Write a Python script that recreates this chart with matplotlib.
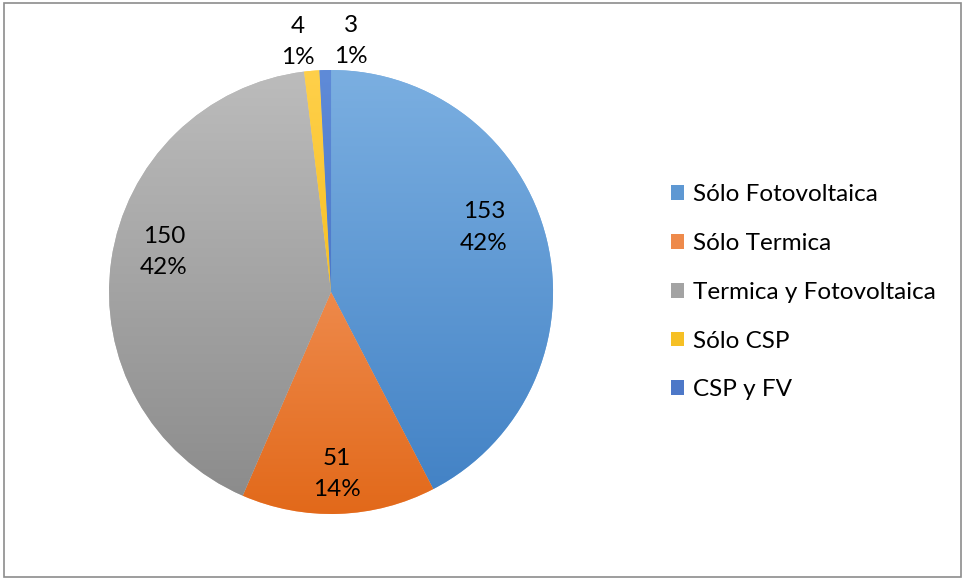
import numpy as np
import matplotlib
matplotlib.use("Agg")
from matplotlib import pyplot as plt
from matplotlib.colors import LinearSegmentedColormap, to_rgb
from matplotlib.patches import Patch, Rectangle

plt.rcParams["font.family"] = ["Lato", "DejaVu Sans"]

categories = ["Sólo Fotovoltaica", "Sólo Termica", "Termica y Fotovoltaica",
              "Sólo CSP", "CSP y FV"]
values = [153, 51, 150, 4, 3]
percents = ["42%", "14%", "42%", "1%", "1%"]

# top / bottom colours of the gradient fill
grad_top = ["#7BAFE1", "#FAAA7C", "#BCBCBC", "#FFD04A", "#5F8BD8"]
grad_bottom = ["#4080C4", "#E2691A", "#8A8A8A", "#EDB000", "#3A64B8"]


def main():
    fig = plt.figure(figsize=(9.64, 5.80), dpi=100)
    fig.add_artist(Rectangle((0.004, 0.006), 0.993, 0.988, transform=fig.transFigure,
                             fill=False, edgecolor="#8c8c8c", linewidth=1.2))

    ax = fig.add_axes([0.1131, 0.1138, 0.4606, 0.7655])
    wedges, _ = ax.pie(values, startangle=90, counterclock=False,
                       colors=grad_top, radius=1.0,
                       wedgeprops=dict(linewidth=0))
    ax.set_xlim(-1, 1)
    ax.set_ylim(-1, 1)
    ax.set_aspect("auto")

    grad = np.linspace(0, 1, 256).reshape(-1, 1)
    for w, top, bot in zip(wedges, grad_top, grad_bottom):
        cmap = LinearSegmentedColormap.from_list("g", [top, bot])
        im = ax.imshow(grad, cmap=cmap, extent=(-1, 1, -1, 1),
                       aspect="auto", origin="upper", zorder=w.get_zorder() + 0.1)
        im.set_clip_path(w)

    total = sum(values)
    start = 90.0
    for i, (v, p) in enumerate(zip(values, percents)):
        span = v / total * 360.0
        mid = np.deg2rad(start - span / 2)
        start -= span
        if v / total > 0.05:
            r = 0.76
            x, y = r * np.cos(mid), r * np.sin(mid)
            if i == 0:
                x -= 0.05
                y += 0.11
            if i == 1:
                y -= 0.06
            if i == 2:
                y += 0.07
        else:
            r = 1.13
            x, y = r * np.cos(mid), r * np.sin(mid)
            x += -0.05 if i == 3 else 0.12
        ax.text(x, y, f"{v}\n{p}", ha="center", va="center", fontsize=17.5,
                linespacing=1.6, color="#000000", zorder=10, clip_on=False)

    leg_colors = [tuple((a + b) / 2 for a, b in zip(to_rgb(t), to_rgb(b_)))
                  for t, b_ in zip(grad_top, grad_bottom)]
    handles = [Patch(facecolor=c, edgecolor="none") for c in leg_colors]
    fig.legend(handles, categories, loc="center left",
               bbox_to_anchor=(0.6835, 0.496), frameon=False, fontsize=17.5,
               handlelength=0.55, handleheight=0.55, handletextpad=0.37,
               labelspacing=1.14, borderpad=0)

    fig.savefig("out.png", dpi=100)
    plt.close(fig)


if __name__ == "__main__":
    main()
